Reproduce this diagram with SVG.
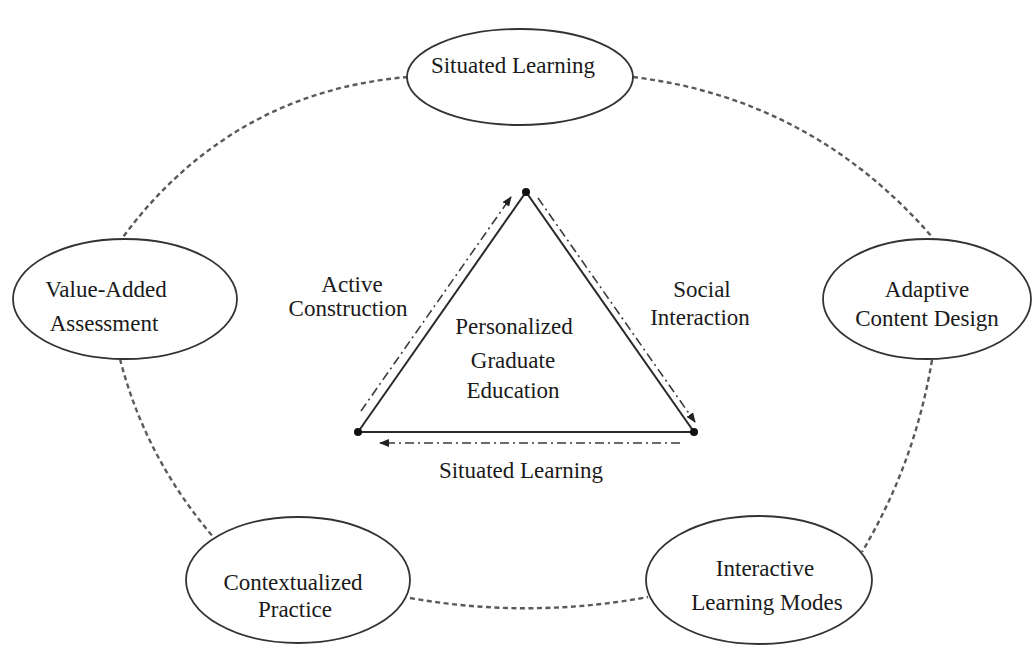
<svg xmlns="http://www.w3.org/2000/svg" width="1035" height="645" viewBox="0 0 1035 645">
  <style>
    .node ellipse { fill: #ffffff; stroke: #333333; stroke-width: 1.8; }
    .lbl { font-family: "Liberation Serif", "Times New Roman", serif; font-size: 23px; fill: #1a1a1a; text-anchor: middle; }
    .ring { fill: none; stroke: #5a5a5a; stroke-width: 2.4; stroke-dasharray: 5 3.5; }
    .edge { fill: none; stroke: #2a2a2a; stroke-width: 2; }
    .flow { fill: none; stroke: #3a3a3a; stroke-width: 1.6; stroke-dasharray: 9 4 2 4; }
    .vertex { fill: #111111; }
  </style>
  <defs>
    <marker id="head" viewBox="0 0 10 8" refX="9" refY="4" markerWidth="10" markerHeight="8" markerUnits="userSpaceOnUse" orient="auto">
      <path d="M0,0 L10,4 L0,8 Z" fill="#222222"/>
    </marker>
  </defs>

  <rect x="0" y="0" width="1035" height="645" fill="#ffffff"/>

  <!-- dotted ring joining the five outer ellipses -->
  <g id="connectors">
    <path class="ring" d="M408,77 Q231,92 123,237"/>
    <path class="ring" d="M633,77 Q813,99 933,238"/>
    <path class="ring" d="M120,359 Q146,460 216,540"/>
    <path class="ring" d="M932,360 Q915,463 862,552"/>
    <path class="ring" d="M410,598 Q529,619 648,597"/>

    <!-- central triangle -->
    <path class="edge" d="M358,432 L526,192 L694,432 Z"/>
    <!-- dash-dot flow arrows alongside the triangle -->
    <path class="flow" d="M361,411 L511,197" marker-end="url(#head)"/>
    <path class="flow" d="M538,198 L695,422" marker-end="url(#head)"/>
    <path class="flow" d="M680,443 L380,443" marker-end="url(#head)"/>
    <circle class="vertex" cx="526" cy="192" r="4"/>
    <circle class="vertex" cx="358" cy="432" r="4"/>
    <circle class="vertex" cx="694" cy="432" r="4"/>
  </g>

  <g id="node-situated" class="node">
    <ellipse cx="520" cy="77" rx="113" ry="48"/>
    <text class="lbl" x="513" y="73">Situated  Learning</text>
  </g>

  <g id="node-value" class="node">
    <ellipse cx="125" cy="299" rx="112" ry="60"/>
    <text class="lbl" x="106" y="297">Value-Added</text>
    <text class="lbl" x="104" y="331">Assessment</text>
  </g>

  <g id="node-adaptive" class="node">
    <ellipse cx="927" cy="299" rx="104" ry="60"/>
    <text class="lbl" x="927" y="297">Adaptive</text>
    <text class="lbl" x="927" y="326">Content Design</text>
  </g>

  <g id="node-contextualized" class="node">
    <ellipse cx="298" cy="580" rx="112" ry="63"/>
    <text class="lbl" x="293" y="590">Contextualized</text>
    <text class="lbl" x="295" y="617">Practice</text>
  </g>

  <g id="node-interactive" class="node">
    <ellipse cx="759" cy="580" rx="113" ry="64"/>
    <text class="lbl" x="765" y="576">Interactive</text>
    <text class="lbl" x="767" y="610">Learning Modes</text>
  </g>

  <g id="node-core">
    <text class="lbl" x="514" y="334">Personalized</text>
    <text class="lbl" x="513" y="368">Graduate</text>
    <text class="lbl" x="513" y="398">Education</text>
  </g>

  <g id="edge-labels">
    <text class="lbl" x="352" y="292">Active</text>
    <text class="lbl" x="348" y="316">Construction</text>
    <text class="lbl" x="702" y="297">Social</text>
    <text class="lbl" x="700" y="325">Interaction</text>
    <text class="lbl" x="521" y="478">Situated Learning</text>
  </g>
</svg>
